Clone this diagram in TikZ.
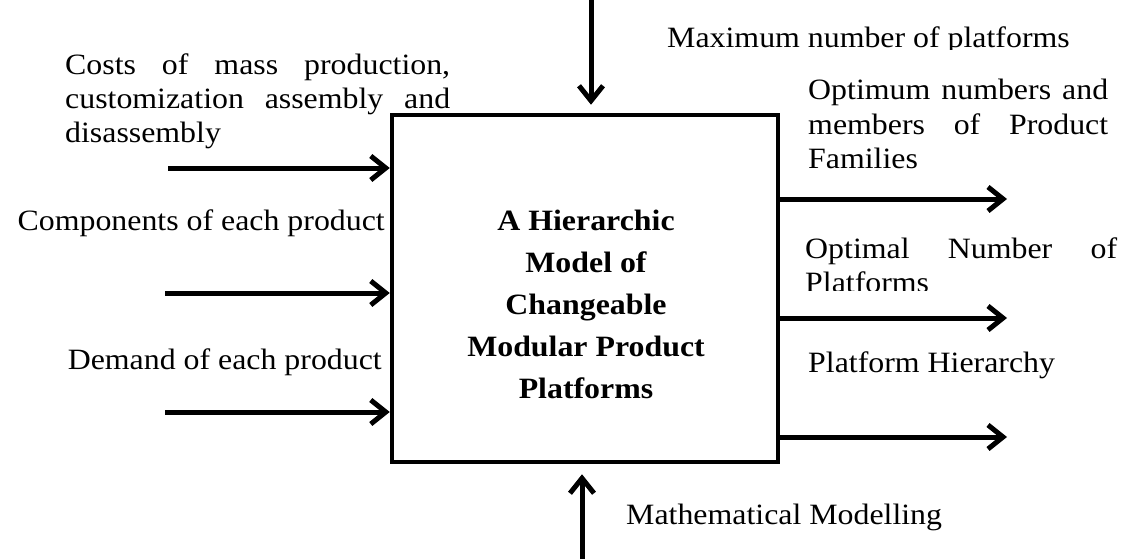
\documentclass[tikz,border=0pt]{standalone}
\usepackage{fontspec}
\setmainfont[FakeStretch=1.08]{Liberation Serif}
\usetikzlibrary{arrows.meta,positioning}

\begin{document}
\begin{tikzpicture}[x=1pt,y=-1pt,
  flow/.style={draw,line width=5pt,-{Straight Barb[length=15pt,width=24pt]}},
  lbl/.style={inner sep=0pt,font=\fontsize{29.5}{34}\selectfont},
  para/.style={lbl,align=justify}]
  \useasboundingbox (0,0) rectangle (1123,559);
  % inputs
  \node[para,text width=385pt,anchor=base west] (costs) at (65,75)
    {Costs of mass production,\linebreak customization assembly and\linebreak disassembly};
  \node[lbl,anchor=base east] (comp) at (385,230) {Components of each product};
  \node[lbl,anchor=base east] (demand) at (382,369) {Demand of each product};
  % outputs
  \node[para,text width=300pt,anchor=base west] (families) at (808,100)
    {Optimum numbers and\linebreak members of Product\linebreak Families};
  \begin{scope}
    \clip (790,230) rectangle (1123,290);
    \node[para,text width=312pt,anchor=base west] (optnum) at (805,258)
      {Optimal Number of\linebreak Platforms};
  \end{scope}
  \node[lbl,anchor=base west] (hier) at (808,372) {Platform Hierarchy};
  % control and mechanism
  \begin{scope}
    \clip (600,0) rectangle (1123,50);
    \node[lbl,anchor=base west] (maxp) at (667,48) {Maximum number of platforms};
  \end{scope}
  \node[lbl,anchor=base west] (math) at (626,524) {Mathematical Modelling};
  % the model
  \node[draw,line width=4.5pt,inner sep=0pt,minimum width=386pt,minimum height=347pt] (model) at (585,288.5) {};
  \node[align=center,inner sep=0pt,anchor=base,font=\bfseries\fontsize{29.5}{42}\selectfont] (title) at (586,398)
    {A Hierarchic\\Model of\\Changeable\\Modular Product\\Platforms};
  \coordinate (in1) at (168,168);
  \coordinate (in2) at (165,293);
  \coordinate (in3) at (165,412);
  \coordinate (out1) at (1007,199);
  \coordinate (out2) at (1007,318);
  \coordinate (out3) at (1007,437);
  \coordinate (ctrl) at (591,0);
  \coordinate (mech) at (582,559);
  \path (in1) edge[flow] (in1 -| model.west)
        (in2) edge[flow] (in2 -| model.west)
        (in3) edge[flow] (in3 -| model.west)
        (model.east |- out1) edge[flow] (out1)
        (model.east |- out2) edge[flow] (out2)
        (model.east |- out3) edge[flow] (out3)
        (ctrl) edge[flow] ([yshift=8pt]ctrl |- model.north)
        (mech) edge[flow] ([yshift=-10pt]mech |- model.south);
\end{tikzpicture}
\end{document}
